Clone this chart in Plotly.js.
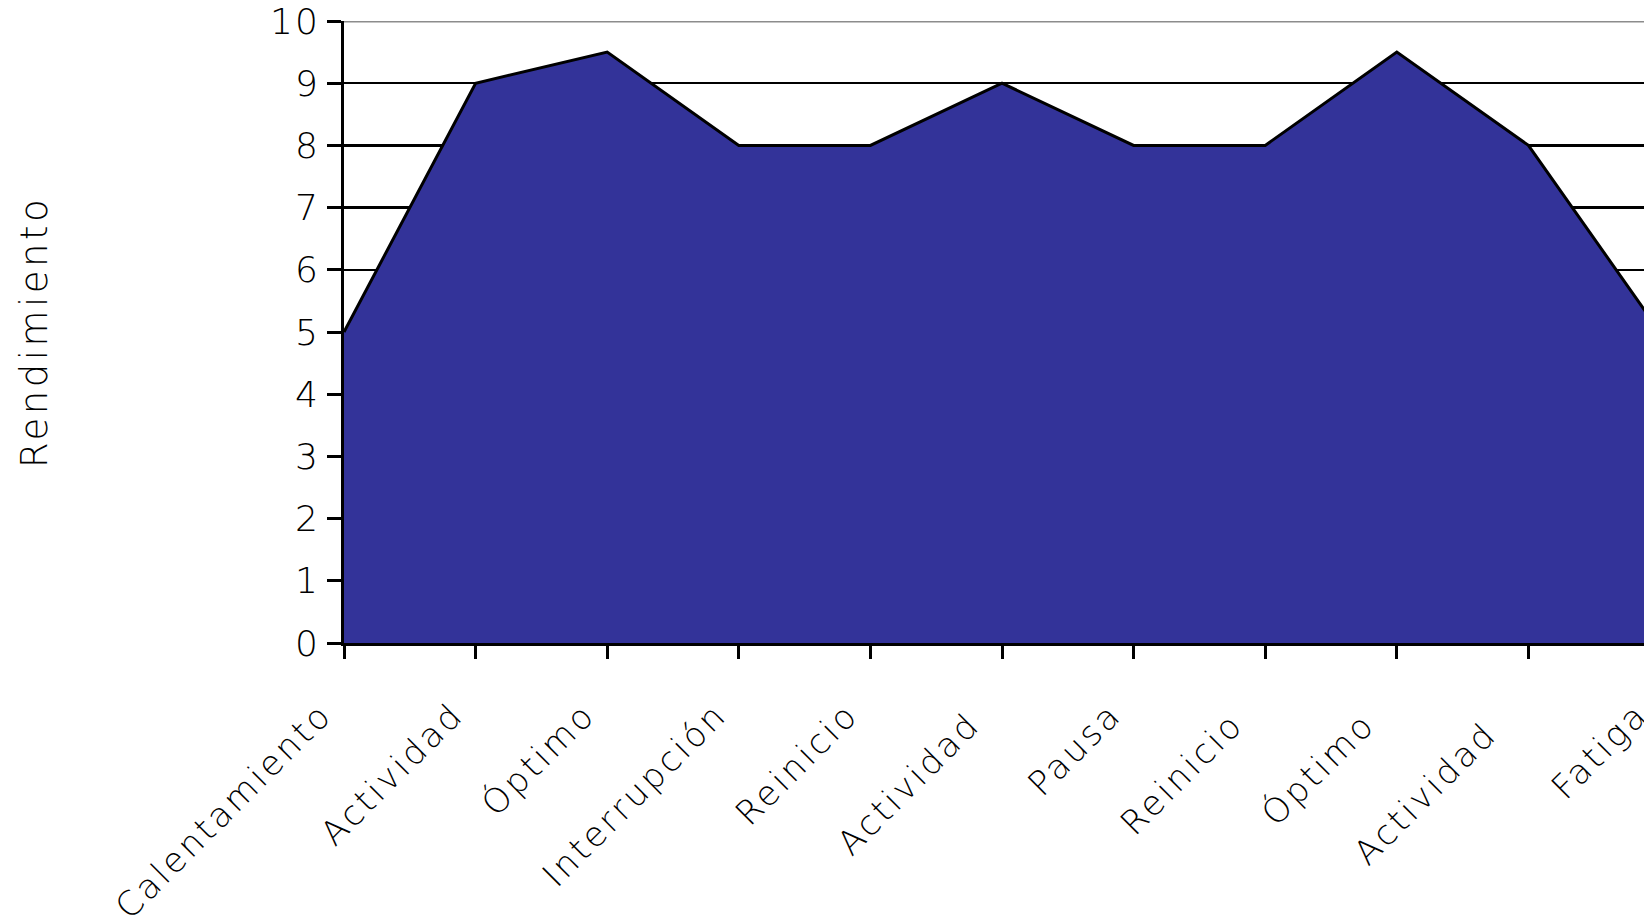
<!DOCTYPE html>
<html>
<head>
<meta charset="utf-8">
<script src="https://cdn.plot.ly/plotly-3.0.1.min.js"></script>
<style>
html, body { margin: 0; padding: 0; overflow: hidden; background: #fff; }
#chart { width: 1700px; height: 917px; }
.xtick text { letter-spacing: 3px; }
.ytick text { letter-spacing: 2px; }
.g-ytitle text { letter-spacing: 3.5px; }
</style>
</head>
<body>
<div id="chart"></div>
<script>
const categories = ["Calentamiento", "Actividad", "Óptimo", "Interrupción", "Reinicio", "Actividad ", "Pausa", "Reinicio ", "Óptimo ", "Actividad  ", "Fatiga"];
const rendimiento = [5, 9, 9.5, 8, 8, 9, 8, 8, 9.5, 8, 5];
const yTicks = [0, 1, 2, 3, 4, 5, 6, 7, 8, 9, 10];

const fontFamily = "'DejaVu Sans', Verdana, sans-serif";

const trace = {
  type: 'scatter',
  mode: 'lines',
  x: categories,
  y: rendimiento,
  fill: 'tozeroy',
  fillcolor: '#333399',
  line: { color: '#000000', width: 3 },
  hoverinfo: 'x+y'
};

const layout = {
  width: 1700,
  height: 917,
  margin: { l: 344, r: 40, t: 21, b: 274 },
  paper_bgcolor: '#ffffff',
  plot_bgcolor: '#ffffff',
  showlegend: false,
  font: { family: fontFamily, color: '#000000', size: 32, weight: 300 },
  xaxis: {
    type: 'category',
    range: [0, 10],
    showgrid: false,
    showline: true,
    linecolor: '#000000',
    linewidth: 3,
    ticks: 'outside',
    ticklen: 13,
    tickwidth: 3,
    tickcolor: '#000000',
    tickangle: -45,
    ticklabelstandoff: 22,
    ticklabelshift: -22,
    ticklabeloverflow: 'allow',
    tickfont: { family: fontFamily, size: 34, color: '#000000', weight: 300 },
    zeroline: false,
    automargin: false
  },
  yaxis: {
    range: [0, 10],
    tickmode: 'array',
    tickvals: yTicks,
    ticktext: yTicks.map(String),
    showgrid: true,
    gridcolor: '#000000',
    gridwidth: 2.5,
    showline: true,
    linecolor: '#000000',
    linewidth: 3,
    ticks: 'outside',
    ticklen: 14,
    tickwidth: 3,
    tickcolor: '#000000',
    ticklabeloverflow: 'allow',
    tickfont: { family: fontFamily, size: 36, color: '#000000', weight: 300 },
    zeroline: false,
    automargin: false,
    title: { text: 'Rendimiento', standoff: 212, font: { family: fontFamily, size: 37, color: '#000000', weight: 300 } }
  },
  shapes: [
    { type: 'line', xref: 'paper', yref: 'y', x0: 0, x1: 1, y0: 10, y1: 10,
      line: { color: '#8c8c8c', width: 3 }, layer: 'above' }
  ]
};

Plotly.newPlot('chart', [trace], layout, { staticPlot: true, displayModeBar: false });
</script>
</body>
</html>
